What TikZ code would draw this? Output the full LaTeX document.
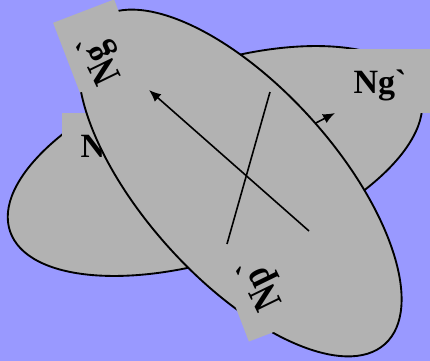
\documentclass[tikz,border=0pt]{standalone}
\usepackage{fontspec}
\newfontfamily\tagfont{Liberation Serif}[Ligatures=NoCommon]
\usetikzlibrary{shapes.geometric, arrows.meta}
\definecolor{bgblue}{HTML}{9999FF}
\definecolor{lobegray}{HTML}{B2B2B2}
\newcommand{\tallname}[1]{\scalebox{0.95}[1.2]{#1}}
\begin{document}
\begin{tikzpicture}[x=0.75pt,y=-0.75pt]
\tikzset{
  lobe/.style={draw, ellipse, fill=lobegray, line width=1.4pt, inner sep=0pt, minimum width=325pt, minimum height=144pt},
  tagbox/.style={fill=lobegray, inner sep=0pt},
  tag/.style={font=\tagfont\bfseries\fontsize{25.5pt}{25.5pt}\selectfont, inner sep=0pt},
  ray/.style={line width=1.2pt},
  rayarrow/.style={ray, -{Latex[length=9pt,width=7.5pt]}}
}
\fill[bgblue] (0,0) rectangle (430,361);
\useasboundingbox (0,0) rectangle (430,361);
\node[lobe, rotate=19] (lobeh) at (215,161) {};
\node[tagbox, minimum width=67.5pt, minimum height=48pt] (boxng) at (385,81) {};
\node[tagbox, minimum width=50pt, minimum height=51pt] (boxn) at (95,147) {};
\node[tag, anchor=base] (labeln) at (93,157) {N};
\node[tag, anchor=base] (labelng) at (380,93) {Ng`};
\coordinate (smallstart) at (312,125);
\coordinate (smallend) at (335,113);
\draw[rayarrow] (smallstart) -- (smallend);
\node[lobe, rotate=-48] (lobev) at (240,183) {};
\node[tagbox, minimum width=49pt, minimum height=56pt, rotate=21] (boxtop) at (97,46) {};
\node[tagbox, minimum width=49pt, minimum height=56pt, rotate=21] (boxbot) at (266,295) {};
\node[tag, rotate=116] (labeltop) at (102,58) {\tallname{Ng`}};
\node[tag, rotate=116] (labelbot) at (262,283) {\tallname{Np`}};
\coordinate (longstart) at (309,231);
\coordinate (longend) at (149,90);
\coordinate (crossa) at (227,244);
\coordinate (crossb) at (270,92);
\draw[rayarrow] (longstart) -- (longend);
\draw[ray] (crossa) -- (crossb);
\end{tikzpicture}
\end{document}
